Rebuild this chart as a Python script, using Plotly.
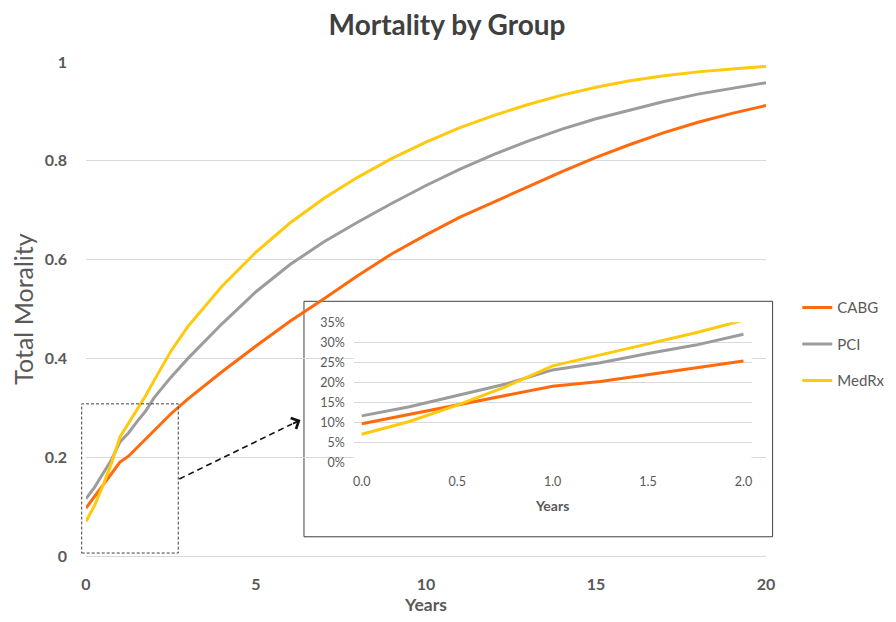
import plotly.graph_objects as go

# ---------------- data ----------------
years = [0, 0.25, 0.5, 0.75, 1, 1.25, 1.5, 1.75, 2, 2.5,
         3, 4, 5, 6, 7, 8, 9, 10, 11, 12, 13, 14, 15, 16, 17, 18, 19, 20]

cabg = [0.097, 0.120, 0.142, 0.166, 0.190, 0.202, 0.219, 0.235, 0.253, 0.288,
        0.318, 0.373, 0.425, 0.475, 0.521, 0.568, 0.612, 0.650, 0.686,
        0.717, 0.747, 0.778, 0.807, 0.833, 0.857, 0.878, 0.896, 0.912]

pci = [0.116, 0.139, 0.167, 0.195, 0.231, 0.249, 0.272, 0.293, 0.320, 0.362,
       0.400, 0.470, 0.535, 0.590, 0.636, 0.676, 0.714, 0.750, 0.783,
       0.813, 0.840, 0.864, 0.885, 0.903, 0.920, 0.935, 0.947, 0.958]

medrx = [0.070, 0.102, 0.143, 0.188, 0.241, 0.268, 0.296, 0.324, 0.355, 0.415,
         0.465, 0.546, 0.615, 0.674, 0.724, 0.767, 0.805, 0.838, 0.867,
         0.892, 0.914, 0.933, 0.949, 0.962, 0.972, 0.980, 0.986, 0.991]

inset_years = [0, 0.25, 0.5, 0.75, 1.0, 1.25, 1.5, 1.75, 2.0]
inset_cabg = [0.0965, 0.120, 0.142, 0.166, 0.190, 0.202, 0.219, 0.235, 0.253]
inset_pci = [0.116, 0.139, 0.167, 0.195, 0.231, 0.249, 0.272, 0.293, 0.320]
inset_medrx = [0.070, 0.102, 0.143, 0.188, 0.241, 0.268, 0.296, 0.324, 0.355]

series_names = ["CABG", "PCI", "MedRx"]
colors = ["#FF6A0D", "#9C9C9C", "#FFC90E"]

main_x_ticks = [0, 5, 10, 15, 20]
main_y_ticks = [0, 0.2, 0.4, 0.6, 0.8, 1]
main_y_labels = ["0", "0.2", "0.4", "0.6", "0.8", "1"]
inset_x_ticks = [0.0, 0.5, 1.0, 1.5, 2.0]

FONT = "Lato"
TXT = "#595959"
GRID = "#D9D9D9"

fig = go.Figure()

for name, ys, c in zip(series_names, [cabg, pci, medrx], colors):
    fig.add_trace(go.Scatter(x=years, y=ys, mode="lines", name=name,
                             legendgroup=name,
                             line=dict(color=c, width=3),
                             xaxis="x", yaxis="y"))

for name, ys, c in zip(series_names, [inset_cabg, inset_pci, inset_medrx], colors):
    fig.add_trace(go.Scatter(x=inset_years, y=ys, mode="lines", name=name,
                             showlegend=False,
                             line=dict(color=c, width=3),
                             xaxis="x2", yaxis="y2"))

# inset box (white, drawn under inset traces but above main traces)
fig.add_shape(type="rect", xref="x2 domain", yref="y2 domain",
              x0=-0.125, x1=1.053, y0=-0.532, y1=1.15,
              line=dict(color="#404040", width=1), fillcolor="white",
              layer="below")

# dashed zoom rectangle
fig.add_shape(type="rect", xref="paper", yref="paper",
              x0=-0.0063, x1=0.1357, y0=0.006, y1=0.308,
              line=dict(color="#404040", width=1, dash="3px,2px"),
              fillcolor="rgba(0,0,0,0)", layer="above")

# dashed arrow line
fig.add_shape(type="line", xref="paper", yref="paper",
              x0=(178.3 - 85) / 680, y0=(556 - 479) / 494,
              x1=(291 - 85) / 680, y1=(556 - 424) / 494,
              line=dict(color="#111111", width=1.6, dash="6px,4px"),
              layer="above")
fig.add_annotation(xref="paper", yref="paper",
                   x=(299.5 - 85) / 680, y=(556 - 420) / 494,
                   ax=-9, ay=4.4, axref="pixel", ayref="pixel",
                   text="", showarrow=True, arrowhead=4, arrowsize=1.3,
                   arrowwidth=1.8, arrowcolor="#111111")

fig.update_layout(
    width=896, height=622,
    margin=dict(l=78, r=138, t=54, b=74, autoexpand=False),
    paper_bgcolor="white", plot_bgcolor="white",
    font=dict(family=FONT, color=TXT),
    title=dict(text="Mortality by Group", x=0.49, xref="container",
               xanchor="center", y=0.9725, yanchor="middle",
               font=dict(family=FONT, size=28, color="#404040", weight="bold")),
    showlegend=True,
    legend=dict(x=1.046, y=0.536, xanchor="left", yanchor="top",
                traceorder="grouped", tracegroupgap=14,
                font=dict(family=FONT, size=15, color=TXT),
                bgcolor="rgba(0,0,0,0)", itemwidth=30),
    xaxis=dict(domain=[0, 1], range=[0, 20], tickvals=main_x_ticks,
               showgrid=False, zeroline=False, showline=True,
               linecolor=GRID, linewidth=1, ticks="",
               ticklabelstandoff=14,
               tickfont=dict(family=FONT, size=16, color=TXT, weight="bold"),
               title=dict(text="Years", standoff=6,
                          font=dict(family=FONT, size=17.5, color=TXT, weight="bold"))),
    yaxis=dict(domain=[0, 1], range=[0, 1], tickvals=main_y_ticks,
               ticktext=main_y_labels, showgrid=True, gridcolor=GRID,
               gridwidth=1, zeroline=False, showline=False, ticks="",
               ticklabelstandoff=18,
               tickfont=dict(family=FONT, size=16, color=TXT, weight="bold"),
               title=dict(text="Total Morality", standoff=9,
                          font=dict(family=FONT, size=25, color=TXT))),
    xaxis2=dict(domain=[(352.7 - 85) / 680, (750.5 - 85) / 680],
                range=[-0.042, 2.042], tickvals=inset_x_ticks,
                tickformat=".1f", anchor="y2", showgrid=False,
                zeroline=False, showline=False, ticks="",
                ticklabelstandoff=10,
                tickfont=dict(family=FONT, size=12.5, color=TXT),
                title=dict(text="Years", standoff=13,
                           font=dict(family=FONT, size=14, color=TXT, weight="bold"))),
    yaxis2=dict(domain=[(556 - 462.3) / 494, (556 - 322.3) / 494],
                range=[0, 0.35], dtick=0.05, tickformat=".0%",
                anchor="x2", showgrid=True, gridcolor=GRID, gridwidth=1,
                zeroline=False, showline=False, ticks="",
                ticklabelstandoff=8,
                tickfont=dict(family=FONT, size=12.5, color=TXT)),
)

fig.write_html("out.html")
